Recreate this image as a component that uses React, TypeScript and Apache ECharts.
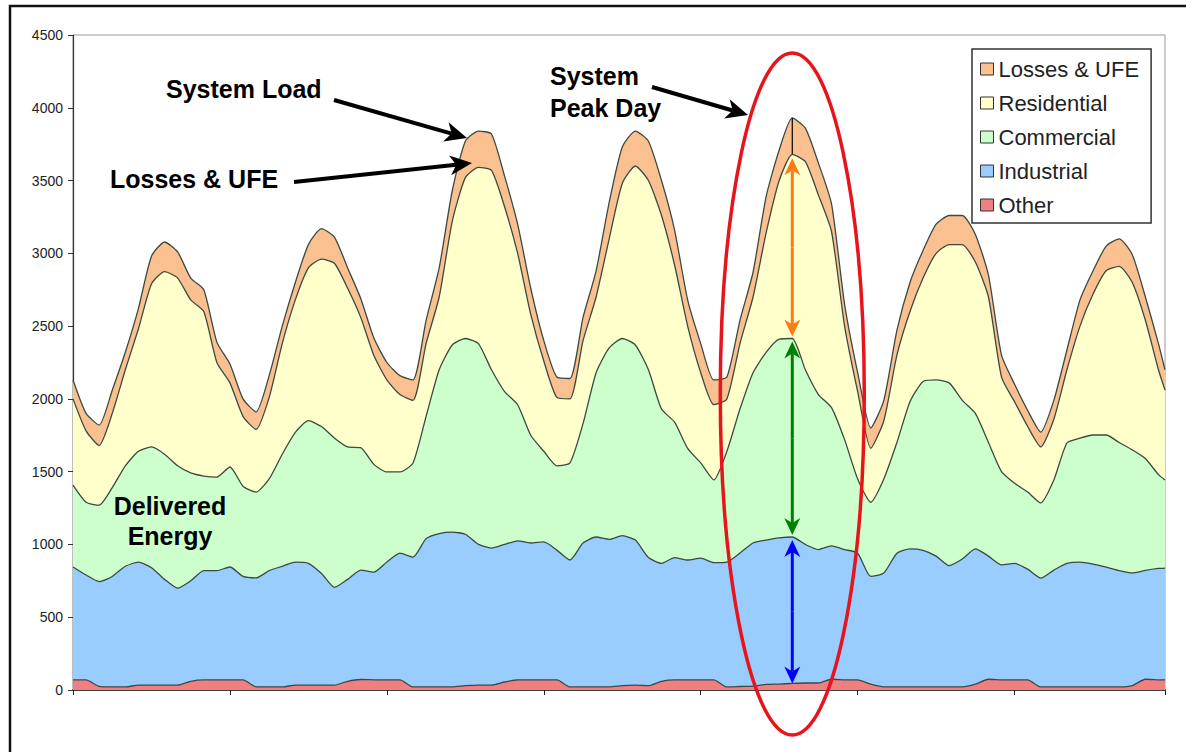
import React, { useEffect, useRef } from "react";
import * as echarts from "echarts";

const FONT = "'Liberation Sans', Arial, Helvetica, sans-serif";

// Hour of the week (2-hour samples, last point = hour 167)
const hours = [
  0, 2, 4, 6, 8, 10, 12, 14, 16, 18, 20, 22,
  24, 26, 28, 30, 32, 34, 36, 38, 40, 42, 44, 46,
  48, 50, 52, 54, 56, 58, 60, 62, 64, 66, 68, 70,
  72, 74, 76, 78, 80, 82, 84, 86, 88, 90, 92, 94,
  96, 98, 100, 102, 104, 106, 108, 110, 112, 114, 116, 118,
  120, 122, 124, 126, 128, 130, 132, 134, 136, 138, 140, 142,
  144, 146, 148, 150, 152, 154, 156, 158, 160, 162, 164, 166,
  167,
];

// Upper edge of each stacked band (MW)
const systemLoad = [
  2130, 1900, 1820, 2060, 2320, 2620, 2980, 3078, 3010, 2830, 2750, 2390,
  2240, 2000, 1910, 2160, 2500, 2800, 3060, 3170, 3110, 2900, 2690, 2420,
  2250, 2160, 2130, 2540, 2900, 3430, 3770, 3840, 3820, 3530, 3200, 2760,
  2400, 2150, 2140, 2560, 2880, 3350, 3730, 3840, 3770, 3500, 3160, 2680,
  2380, 2130, 2150, 2540, 2870, 3390, 3710, 3930, 3860, 3620, 3340, 2650,
  2180, 1800, 1990, 2470, 2800, 3020, 3200, 3260, 3260, 3130, 2850, 2300,
  2100, 1920, 1772, 1990, 2336, 2680, 2880, 3050, 3100, 2990, 2700, 2380,
  2200,
];

const residentialTop = [
  2000, 1780, 1680, 1900, 2200, 2480, 2790, 2875, 2830, 2680, 2600, 2250,
  2110, 1880, 1790, 2010, 2380, 2680, 2900, 2960, 2930, 2760, 2560, 2300,
  2130, 2030, 1990, 2380, 2700, 3220, 3520, 3590, 3570, 3320, 3000, 2580,
  2260, 2010, 2000, 2400, 2700, 3100, 3480, 3600, 3500, 3260, 2920, 2500,
  2180, 1960, 2000, 2380, 2700, 3140, 3500, 3680, 3630, 3400, 3150, 2500,
  2050, 1660, 1850, 2300, 2600, 2830, 3000, 3060, 3060, 2940, 2700, 2150,
  1980, 1810, 1670, 1860, 2200, 2500, 2720, 2880, 2910, 2800, 2540, 2200,
  2060,
];

const commercialTop = [
  1408, 1290, 1270, 1390, 1540, 1640, 1670, 1620, 1540, 1491, 1470, 1463,
  1532, 1400, 1360, 1450, 1620, 1770, 1850, 1810, 1730, 1670, 1665, 1550,
  1498, 1498, 1560, 1880, 2200, 2370, 2415, 2380, 2200, 2050, 1960, 1750,
  1640, 1540, 1560, 1830, 2180, 2350, 2415, 2370, 2200, 1930, 1840, 1660,
  1560, 1443, 1640, 1930, 2180, 2320, 2410, 2415, 2200, 2030, 1940, 1720,
  1450, 1290, 1450, 1700, 1980, 2120, 2130, 2110, 1990, 1900, 1700, 1500,
  1420, 1360, 1285, 1443, 1697, 1730, 1752, 1752, 1700, 1650, 1590, 1480,
  1443,
];

const industrialTop = [
  845, 790, 745, 780, 850, 878, 840, 760, 700, 750, 820, 820,
  845, 780, 770, 820, 850, 878, 870, 800, 705, 760, 824, 810,
  880, 940, 913, 1040, 1075, 1085, 1070, 1000, 975, 1000, 1025, 1010,
  1017, 961, 893, 1010, 1051, 1035, 1060, 1030, 910, 870, 910, 893,
  906, 875, 879, 941, 1010, 1030, 1045, 1051, 1000, 965, 990, 965,
  940, 780, 804, 940, 970, 960, 920, 855, 900, 970, 920, 860,
  870, 830, 769, 824, 870, 878, 865, 845, 820, 804, 822, 835,
  838,
];

const otherTop = [
  69, 69, 25, 21, 21, 34, 34, 34, 34, 60, 69, 69,
  69, 69, 22, 21, 21, 34, 34, 34, 34, 60, 72, 70,
  69, 69, 21, 21, 21, 21, 30, 34, 34, 55, 70, 69,
  69, 69, 21, 21, 21, 21, 30, 34, 30, 60, 70, 69,
  69, 69, 21, 24, 27, 38, 41, 45, 48, 48, 74, 70,
  69, 40, 21, 21, 21, 21, 21, 21, 21, 40, 74, 70,
  69, 69, 21, 21, 21, 21, 21, 21, 21, 30, 74, 70,
  69,
];

const seriesNames = ["Losses & UFE", "Residential", "Commercial", "Industrial", "Other"];
const seriesValues = [systemLoad, residentialTop, commercialTop, industrialTop, otherTop];
const seriesColors = ["#FAC090", "#FFFFCC", "#CCFFCC", "#99CCFF", "#F08080"];

const yMax = 4500;
const yStep = 500;
const dayHours = 24;
const lastHour = 167;
const peakDayHour = 110;

function arrowLine(x1: number, y1: number, x2: number, y2: number, color: string, width: number, len: number, half: number, notch: number) {
  const dx = x2 - x1;
  const dy = y2 - y1;
  const d = Math.hypot(dx, dy);
  const ux = dx / d;
  const uy = dy / d;
  const nx = -uy;
  const ny = ux;
  const bx = x2 - ux * len;
  const by = y2 - uy * len;
  const mx = x2 - ux * (len - notch);
  const my = y2 - uy * (len - notch);
  return [
    { type: "line", shape: { x1, y1, x2: mx, y2: my }, style: { stroke: color, lineWidth: width }, z: 100 },
    {
      type: "polygon",
      shape: { points: [[x2, y2], [bx + nx * half, by + ny * half], [mx, my], [bx - nx * half, by - ny * half]] },
      style: { fill: color },
      z: 101,
    },
  ];
}

function doubleArrow(x: number, yTop: number, yBot: number, color: string) {
  const mid = (yTop + yBot) / 2;
  return [
    ...arrowLine(x, mid, x, yTop, color, 3, 17, 8, 5),
    ...arrowLine(x, mid, x, yBot, color, 3, 17, 8, 5),
  ];
}

function textEl(text: string, x: number, y: number, align: string) {
  return {
    type: "text",
    x,
    y,
    z: 110,
    style: { text, fill: "#000", fontSize: 25, fontWeight: "bold", fontFamily: FONT, align, verticalAlign: "middle" },
  };
}

export default function App() {
  const ref = useRef<HTMLDivElement>(null);

  useEffect(() => {
    const el = ref.current;
    if (!el) return;
    const chart = echarts.init(el, null, { renderer: "svg" });

    const option: any = {
      animation: false,
      backgroundColor: "#ffffff",
      grid: {
        left: 73,
        right: 21,
        top: 35,
        bottom: 62,
        show: true,
        borderColor: "#9a9a9a",
        borderWidth: 1,
        backgroundColor: "transparent",
      },
      legend: {
        data: seriesNames.map((n, i) => ({ name: n, itemStyle: { color: seriesColors[i] } })),
        orient: "vertical",
        left: 972,
        top: 49,
        padding: [9, 12, 7, 8],
        itemGap: 12,
        itemWidth: 13,
        itemHeight: 12,
        icon: "rect",
        borderColor: "#333",
        borderWidth: 1.5,
        backgroundColor: "#fff",
        selectedMode: false,
        itemStyle: { borderColor: "#333", borderWidth: 1 },
        textStyle: { fontSize: 22, color: "#222", fontFamily: FONT, lineHeight: 22 },
      },
      xAxis: {
        type: "value",
        min: 0,
        max: lastHour,
        interval: dayHours,
        axisLabel: { show: false },
        axisTick: { show: true, length: 5, lineStyle: { color: "#222", width: 1 } },
        axisLine: { show: true, lineStyle: { color: "#111", width: 1.5 } },
        splitLine: { show: false },
      },
      yAxis: {
        type: "value",
        min: 0,
        max: yMax,
        interval: yStep,
        axisLine: { show: true, lineStyle: { color: "#333", width: 1.2 } },
        axisTick: { show: true, length: 5, lineStyle: { color: "#333" } },
        axisLabel: {
          fontSize: 14,
          color: "#222",
          fontFamily: FONT,
          margin: 10,
          formatter: (v: number) => String(v),
        },
        splitLine: { show: false },
      },
      series: seriesNames.map((name, si) => ({
        name,
        type: "line",
        silent: true,
        symbol: "none",
        smooth: 0.2,
        data: hours.map((h, i) => [h, seriesValues[si][i]]),
        itemStyle: { color: seriesColors[si] },
        lineStyle: { color: "#3b4a40", width: 1.3 },
        areaStyle: { color: seriesColors[si], opacity: 1 },
        emphasis: { disabled: true },
      })),
    };
    chart.setOption(option);

    const pk = hours.indexOf(peakDayHour);
    const p = (v: number) => chart.convertToPixel({ gridIndex: 0 } as any, [peakDayHour, v]) as number[];
    const xPk = p(0)[0];
    const yLoad = p(systemLoad[pk])[1];
    const yRes = p(residentialTop[pk])[1];
    const yCom = p(commercialTop[pk])[1];
    const yInd = p(industrialTop[pk])[1];
    const yOth = p(otherTop[pk])[1];

    const elements: any[] = [
      // outer frame
      { type: "rect", shape: { x: 10, y: 6, width: 1200, height: 800 }, style: { fill: "none", stroke: "#111", lineWidth: 2.5 }, z: 120 },
      // peak-day ellipse
      { type: "ellipse", shape: { cx: xPk, cy: 394, rx: 72, ry: 341 }, style: { fill: "none", stroke: "#E8141C", lineWidth: 3.5 }, z: 105 },
      // thin black line over losses band
      { type: "line", shape: { x1: xPk, y1: yLoad, x2: xPk, y2: yRes }, style: { stroke: "#000", lineWidth: 1.2 }, z: 100 },
      ...doubleArrow(xPk, yRes + 4, yCom - 2, "#FF7A10"),
      ...doubleArrow(xPk, yCom + 3, yInd - 2, "#008000"),
      ...doubleArrow(xPk, yInd + 3, yOth, "#0000FF"),
      // annotation arrows
      ...arrowLine(334, 100, 467, 138, "#000", 4, 22, 10, 6),
      ...arrowLine(294, 182, 472, 163, "#000", 4, 22, 10, 6),
      ...arrowLine(652, 87, 748, 115, "#000", 4, 22, 10, 6),
      // annotation texts
      textEl("System Load", 166, 89, "left"),
      textEl("Losses & UFE", 110, 179, "left"),
      textEl("System", 550, 76, "left"),
      textEl("Peak Day", 550, 108, "left"),
      textEl("Delivered", 170, 506, "center"),
      textEl("Energy", 170, 536, "center"),
    ];
    chart.setOption({ graphic: { elements } });

    return () => {
      chart.dispose();
    };
  }, []);

  return (
    <div
      ref={ref}
      style={{ position: "absolute", left: 0, top: 0, width: 1186, height: 752, background: "#fff" }}
    />
  );
}
